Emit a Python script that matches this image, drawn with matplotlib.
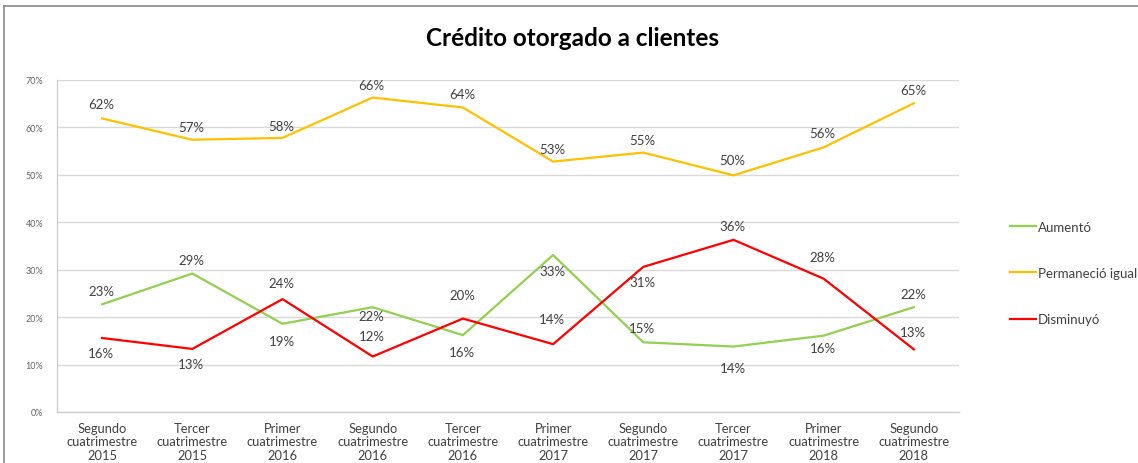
import matplotlib
matplotlib.use("Agg")
import matplotlib.pyplot as plt
from matplotlib.lines import Line2D
import numpy as np

plt.rcParams['font.family'] = ['Lato', 'DejaVu Sans']

categories = [
    "Segundo\ncuatrimestre\n2015", "Tercer\ncuatrimestre\n2015", "Primer\ncuatrimestre\n2016",
    "Segundo\ncuatrimestre\n2016", "Tercer\ncuatrimestre\n2016", "Primer\ncuatrimestre\n2017",
    "Segundo\ncuatrimestre\n2017", "Tercer\ncuatrimestre\n2017", "Primer\ncuatrimestre\n2018",
    "Segundo\ncuatrimestre\n2018",
]
aumento = [22.7, 29.2, 18.6, 22.1, 16.2, 33.1, 14.7, 13.8, 16.1, 22.1]
permanecio = [61.9, 57.4, 57.8, 66.3, 64.2, 52.8, 54.7, 49.9, 55.8, 65.1]
disminuyo = [15.6, 13.3, 23.8, 11.7, 19.7, 14.3, 30.6, 36.3, 28.1, 13.2]
series_names = ["Aumentó", "Permaneció igual", "Disminuyó"]
yticks = [0, 10, 20, 30, 40, 50, 60, 70]

# label offsets in pixels (positive = up)
off_aum = [13, 14, -17, -9, -17, -16, 14, -21, -12, 13]
off_per = [14, 13, 12, 13, 14, 13, 13, 15, 14, 13]
off_dis = [-15, -15, 16, 21, 24, 25, -15, 14, 22, 17]

colors = ["#92D050", "#FFC000", "#FF0000"]

W, H = 1138, 464
fig = plt.figure(figsize=(W / 100, H / 100), dpi=100)
ax = fig.add_axes([57 / W, (H - 413) / H, (959 - 57) / W, (413 - 81) / H])

x = np.arange(len(categories))
lines = []
for vals, offs, c, name in [(aumento, off_aum, colors[0], series_names[0]),
                            (permanecio, off_per, colors[1], series_names[1]),
                            (disminuyo, off_dis, colors[2], series_names[2])]:
    ln, = ax.plot(x, vals, color=c, lw=1.6, label=name, zorder=3)
    lines.append(ln)
    for xi, v, o in zip(x, vals, offs):
        ax.annotate(f"{v:.0f}%", (xi, v), xytext=(-1, o), textcoords="offset pixels",
                    ha="center", va="center", fontsize=9.5, color="#404040", zorder=4)

ax.set_xlim(-0.5, len(categories) - 0.5)
ax.set_ylim(0, 70)
ax.set_yticks(yticks)
ax.set_yticklabels([f"{t}%" for t in yticks], fontsize=6.5, color="#666666")
ax.set_xticks(x)
ax.set_xticklabels(categories, fontsize=9.3, color="#404040", linespacing=1.15)
ax.tick_params(axis="both", length=0)
ax.tick_params(axis="y", pad=10)
ax.tick_params(axis="x", pad=7)
ax.grid(axis="y", color="#d9d9d9", lw=1)
ax.set_axisbelow(True)
for s in ["top", "right"]:
    ax.spines[s].set_visible(False)
for s in ["left", "bottom"]:
    ax.spines[s].set_color("#d0d0d0")
    ax.spines[s].set_linewidth(1)

fig.text(572 / W, 1 - 38 / H, "Crédito otorgado a clientes", ha="center", va="center",
         fontsize=17.5, fontweight="bold", color="#000000")

fig.legend(handles=lines, labels=series_names, loc="center left",
           bbox_to_anchor=(998 / W, 1 - 274 / H), frameon=False, fontsize=9.5,
           handlelength=2.0, handletextpad=0.1, labelspacing=2.6, labelcolor="#404040")

# chart frame
fig.add_artist(Line2D([4 / W, 1], [1 - 7 / H, 1 - 7 / H], color="#8a8a8a", lw=1.2))
fig.add_artist(Line2D([4 / W, 4 / W], [0, 1 - 7 / H], color="#8a8a8a", lw=1.2))

fig.savefig("out.png", dpi=100)
